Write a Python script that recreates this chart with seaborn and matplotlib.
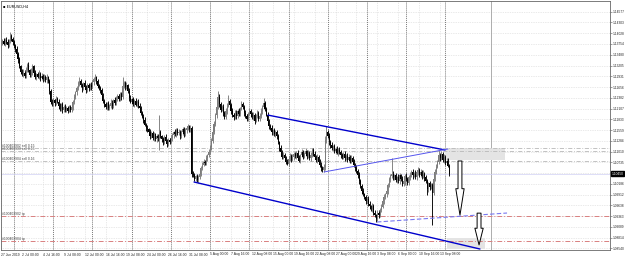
import numpy as np
import pandas as pd
import matplotlib
matplotlib.use("Agg")
import matplotlib.pyplot as plt
import seaborn as sns
from matplotlib.patches import Rectangle

# ---------------- data ----------------
symbol = "EURUSD,H4"
first_bar = -9          # bar index of first candle (bars counted from 1 Jul 00:00)
first_open = 11378      # prices in 1/10000 units

closes = [
    11382, 11376, 11386, 11380, 11372, 11384, 11395, 11388, 11380,
    11370, 11362, 11350, 11336, 11318, 11305, 11298, 11302, 11294, 11310,
    11322, 11308, 11296, 11305, 11318, 11302, 11290, 11298, 11292, 11300,
    11288, 11295, 11286, 11292, 11284, 11290, 11280, 11255, 11228, 11222,
    11232, 11225, 11236, 11228, 11218, 11210, 11222, 11206, 11214, 11208,
    11212, 11205, 11214, 11208, 11215, 11228, 11240, 11252, 11262, 11275,
    11282, 11270, 11262, 11275, 11266, 11258, 11270, 11262, 11272, 11266,
    11278, 11285, 11290, 11280, 11268, 11262, 11258, 11245, 11230, 11222,
    11215, 11224, 11212, 11218, 11226, 11218, 11232, 11225, 11238, 11242,
    11236, 11248, 11240, 11268, 11275, 11265, 11270, 11256, 11238, 11228,
    11235, 11222, 11230, 11220, 11228, 11218, 11212, 11200, 11190, 11182,
    11170, 11162, 11158, 11150, 11140, 11148, 11136, 11145, 11132, 11140,
    11135, 11150, 11140, 11132, 11125, 11138, 11128, 11120, 11130, 11126,
    11135, 11142, 11150, 11145, 11156, 11148, 11152, 11140, 11150, 11158,
    11146, 11155, 11160, 11165, 11158, 11162, 11045, 11040, 11032, 11038,
    11028, 11036, 11045, 11060, 11068, 11075, 11072, 11085, 11092, 11100,
    11112, 11128, 11150, 11172, 11195, 11215, 11240, 11222, 11208, 11215,
    11200, 11190, 11205, 11218, 11230, 11220, 11205, 11195, 11188, 11200,
    11192, 11205, 11198, 11210, 11222, 11215, 11200, 11192, 11185, 11198,
    11205, 11196, 11188, 11195, 11180, 11192, 11200, 11185, 11192, 11205,
    11215, 11225, 11210, 11195, 11180, 11165, 11160, 11150, 11155, 11145,
    11150, 11140, 11125, 11110, 11100, 11088, 11092, 11085, 11075, 11070,
    11082, 11090, 11080, 11088, 11095, 11090, 11098, 11085, 11078, 11092,
    11100, 11088, 11095, 11102, 11090, 11098, 11085, 11092, 11105, 11095,
    11088, 11080, 11088, 11075, 11068, 11060, 11055, 11062, 11130, 11150,
    11140, 11125, 11118, 11110, 11115, 11102, 11108, 11098, 11105, 11100,
    11092, 11088, 11095, 11084, 11090, 11080, 11088, 11078, 11085, 11075,
    11068, 11060, 11052, 11040, 11025, 11012, 11000, 10992, 10985, 10975,
    10980, 10968, 10962, 10955, 10962, 10945, 10938, 10930, 10945, 10938,
    10952, 10960, 10975, 10985, 10992, 11000, 11015, 11030, 11038, 11045,
    11035, 11040, 11028, 11035, 11025, 11040, 11032, 11018, 11025, 11038,
    11030, 11022, 11035, 11042, 11050, 11040, 11045, 11035, 11048, 11055,
    11042, 11050, 11038, 11045, 11035, 11025, 11005, 11020, 11010, 11015,
    10995, 11030, 11050, 11062, 11075, 11092, 11085, 11095, 11080, 11088,
    11072, 11078, 11065, 11045,
]
wick_up = [
    5, 8, 4, 6, 7, 5, 11, 6, 4,
    6, 5, 8, 4, 7, 5, 6, 9, 4, 6,
    5, 7, 4, 8, 6, 5, 7, 4, 6, 8,
    5, 6, 4, 7, 5, 8, 4, 6, 5, 7,
    6, 4, 8, 5, 6, 7, 4, 6, 5, 8,
    4, 6, 5, 7, 6, 5, 8, 4, 6, 7,
    9, 5, 6, 4, 8, 5, 7, 6, 4, 6,
    5, 7, 8, 4, 6, 5, 7, 4, 6, 5,
    6, 4, 7, 5, 8, 6, 4, 7, 5, 6,
    7, 5, 6, 23, 6, 5, 8, 4, 6, 7,
    5, 6, 4, 8, 5, 7, 6, 4, 5, 6,
    7, 5, 6, 4, 8, 5, 6, 7, 4, 6,
    5, 44, 6, 4, 7, 5, 8, 4, 6, 5,
    7, 6, 4, 8, 5, 6, 7, 4, 6, 5,
    6, 7, 5, 6, 4, 8, 5, 6, 7, 4,
    6, 5, 8, 4, 6, 7, 5, 6, 4, 8,
    5, 7, 6, 8, 5, 6, 15, 7, 5, 6,
    8, 5, 7, 6, 15, 4, 6, 7, 5, 8,
    6, 5, 7, 4, 8, 6, 5, 7, 6, 4,
    8, 5, 6, 7, 4, 6, 8, 5, 7, 6,
    5, 13, 6, 4, 7, 5, 6, 8, 4, 6,
    7, 5, 6, 4, 8, 5, 7, 6, 4, 6,
    5, 7, 6, 8, 4, 6, 5, 7, 6, 4,
    8, 5, 6, 7, 4, 6, 5, 8, 6, 5,
    7, 4, 6, 5, 8, 6, 4, 7, 10, 15,
    6, 8, 5, 7, 4, 6, 5, 8, 6, 7,
    5, 6, 4, 8, 5, 7, 6, 4, 6, 5,
    7, 5, 6, 4, 8, 5, 6, 7, 4, 6,
    5, 8, 6, 4, 7, 5, 6, 4, 8, 5,
    6, 7, 5, 8, 4, 6, 7, 5, 6, 40,
    6, 5, 7, 4, 8, 6, 5, 7, 4, 6,
    8, 5, 6, 7, 4, 6, 5, 8, 6, 7,
    5, 6, 4, 8, 5, 7, 6, 4, 6, 5,
    5, 7, 6, 8, 5, 13, 6, 7, 4, 6,
    5, 7, 6, 4,
]
wick_dn = [
    6, 4, 7, 5, 8, 4, 6, 5, 7,
    5, 7, 6, 8, 5, 6, 4, 7, 5, 6,
    7, 5, 6, 4, 8, 6, 5, 7, 4, 6,
    6, 4, 7, 5, 6, 8, 5, 7, 6, 4,
    5, 7, 6, 4, 8, 5, 6, 7, 4, 6,
    7, 5, 4, 6, 5, 8, 6, 4, 7, 5,
    6, 4, 8, 5, 6, 7, 4, 6, 5, 8,
    4, 6, 5, 7, 6, 4, 8, 5, 6, 7,
    5, 7, 6, 4, 6, 8, 5, 6, 4, 7,
    6, 5, 7, 4, 6, 8, 5, 6, 7, 4,
    6, 5, 8, 4, 6, 7, 5, 6, 4, 7,
    5, 8, 6, 4, 7, 5, 6, 8, 4, 6,
    7, 30, 5, 6, 8, 4, 6, 7, 5, 6,
    4, 6, 7, 5, 8, 6, 4, 7, 5, 6,
    8, 5, 6, 4, 7, 6, 9, 5, 7, 6,
    5, 8, 4, 6, 7, 5, 6, 4, 8, 5,
    6, 7, 5, 4, 6, 8, 5, 7, 6, 4,
    7, 5, 6, 8, 4, 6, 7, 5, 6, 4,
    8, 6, 5, 7, 4, 6, 8, 5, 7, 6,
    4, 7, 5, 6, 8, 4, 6, 7, 5, 6,
    7, 5, 6, 4, 8, 6, 5, 7, 6, 4,
    6, 8, 5, 7, 4, 6, 5, 8, 6, 3,
    7, 5, 6, 4, 8, 5, 7, 6, 4, 6,
    5, 7, 4, 6, 8, 5, 6, 7, 4, 6,
    6, 5, 7, 4, 6, 8, 6, 5, 7, 6,
    5, 6, 8, 4, 7, 5, 6, 4, 8, 6,
    7, 5, 6, 8, 4, 6, 5, 7, 6, 4,
    6, 8, 5, 7, 6, 4, 8, 5, 6, 7,
    4, 6, 7, 5, 8, 6, 5, 8, 6, 7,
    5, 6, 4, 7, 5, 8, 6, 4, 7, 5,
    6, 7, 5, 8, 4, 6, 7, 5, 6, 8,
    4, 6, 5, 7, 6, 8, 5, 4, 7, 6,
    5, 7, 6, 4, 8, 5, 15, 6, 7, 5,
    80, 6, 5, 7, 4, 6, 8, 5, 6, 7,
    5, 6, 4, 7,
]

date_ticks = [-10, 6, 22, 38, 54, 70, 86, 102, 118, 134, 150, 166, 182, 198,
              214, 230, 246, 262, 278, 294, 310, 326]
date_labels = ["27 Jun 2019", "2 Jul 00:00", "4 Jul 16:00", "9 Jul 08:00",
               "12 Jul 00:00", "16 Jul 16:00", "19 Jul 08:00", "24 Jul 00:00",
               "26 Jul 16:00", "31 Jul 08:00", "5 Aug 00:00", "7 Aug 16:00",
               "12 Aug 08:00", "15 Aug 00:00", "19 Aug 16:00", "22 Aug 08:00",
               "27 Aug 00:00", "29 Aug 16:00", "3 Sep 08:00", "6 Sep 00:00",
               "10 Sep 16:00", "13 Sep 08:00"]
week_starts = [0, 30, 60, 90, 120, 150, 180, 210, 240, 270, 300, 330]
price_ticks = [1.14577, 1.14303, 1.14028, 1.13754, 1.13480, 1.13205, 1.12931,
               1.12656, 1.12382, 1.12107, 1.11833, 1.11559, 1.11284, 1.11010,
               1.10735, 1.10461, 1.10186, 1.09912, 1.09638, 1.09363, 1.09089,
               1.08814, 1.08540]

channel_upper_x = [194.3, 329.8]
channel_upper_y = [1.1194, 1.1105]
channel_lower_x = [137.7, 356.5]
channel_lower_y = [1.10234, 1.08525]
inner_line_x = [237.2, 332.0]
inner_line_y = [1.1049, 1.11076]
dash_line_x = [277.7, 377.2]
dash_line_y = [1.09214, 1.09443]
tp_levels = [1.0937, 1.0873]
tp_names = ["#100403902 tp", "#100403904 tp"]
order_levels = [1.1110, 1.1102, 1.1077]
order_names = ["#100403902 sell 0.15", "#100403903 sell 0.15", "#100403904 sell 0.16"]
zone_x = [(329.8, 375.7), (331.3, 360.4)]
zone_y = [(1.1079, 1.1110), (1.0853, 1.0881)]
arrow_x = [341.2, 355.8]
arrow_from = [1.1077, 1.0944]
arrow_to = [1.0939, 1.0863]
extra_vline = 365

# ---------------- build OHLC ----------------
c = np.array(closes) / 1e4
o = np.concatenate([[first_open / 1e4], c[:-1]])
h = np.maximum(o, c) + np.array(wick_up) / 1e4
l = np.minimum(o, c) - np.array(wick_dn) / 1e4
bars = np.arange(first_bar, first_bar + len(c))
df = pd.DataFrame({"bar": bars, "open": o, "high": h, "low": l, "close": c})

# ---------------- figure ----------------
sns.set_theme(style="white")
plt.rcParams["font.family"] = ["Liberation Sans", "DejaVu Sans"]
fig = plt.figure(figsize=(6.25, 2.56), dpi=100)
ax = fig.add_axes([1 / 625, 6 / 256, 609 / 625, 249 / 256])
ax.set_facecolor("white")
xmin, xmax = -9.95, 456.0
ymin, ymax = 1.0850, 1.1485
ax.set_xlim(xmin, xmax)
ax.set_ylim(ymin, ymax)

# grid
for t in price_ticks:
    ax.axhline(t, color="#d4d4d4", lw=0.5, ls=(0, (1, 1.5)), zorder=0)
for t in date_ticks:
    ax.axvline(t, color="#d4d4d4", lw=0.5, ls=(0, (1, 1.5)), zorder=0)
for t in week_starts:
    ax.axvline(t, color="#7a7a7a", lw=0.7, ls=(0, (1, 1)), zorder=1)
ax.axvline(extra_vline, color="#a0a0a0", lw=0.6, zorder=1)

# zones
for (x0, x1), (y0, y1) in zip(zone_x, zone_y):
    ax.add_patch(Rectangle((x0, y0), x1 - x0, y1 - y0, facecolor="#e4e4e4",
                           edgecolor="none", zorder=1))

# order / tp lines
for lv in order_levels:
    ax.axhline(lv, color="#b8b8b8", lw=0.6, ls=(0, (5, 2, 1, 2)), zorder=1)
for lv in tp_levels:
    ax.axhline(lv, color="#d98080", lw=0.7, ls=(0, (5, 2, 1, 2)), zorder=1)
for lv, nm in zip(order_levels, order_names):
    ax.text(-9.0, lv, nm, fontsize=2.4, color="#444444", va="bottom", ha="left", zorder=5)
for lv, nm in zip(tp_levels, tp_names):
    ax.text(-9.0, lv, nm, fontsize=2.4, color="#444444", va="bottom", ha="left", zorder=5)

# candles
up = df["close"] >= df["open"]
for mask, col in [(up, "#7c7c7c"), (~up, "#000000")]:
    d = df[mask]
    ax.vlines(d["bar"], d["low"], d["high"], color=col, lw=0.65, zorder=3)
    body_lo = np.minimum(d["open"], d["close"])
    body_h = np.maximum(np.abs(d["close"] - d["open"]), 0.00005)
    ax.bar(d["bar"], body_h, bottom=body_lo, width=0.8, color=col,
           edgecolor="none", zorder=3)

# trend lines
sns.lineplot(x=channel_upper_x, y=channel_upper_y, ax=ax, color="#0000cc", lw=1.0, zorder=4)
sns.lineplot(x=channel_lower_x, y=channel_lower_y, ax=ax, color="#0000cc", lw=1.0, zorder=4)
sns.lineplot(x=inner_line_x, y=inner_line_y, ax=ax, color="#5555ee", lw=0.7, zorder=4)
ax.plot(dash_line_x, dash_line_y, color="#7878f0", lw=0.8, ls=(0, (4, 2)), zorder=4)

# arrows
heads = [1.9, 1.2]
for xa, ya, yb, hl in zip(arrow_x, arrow_from, arrow_to, heads):
    ax.annotate("", xy=(xa, yb), xytext=(xa, ya),
                arrowprops=dict(arrowstyle=f"simple,head_length={hl},head_width=0.6,tail_width=0.28",
                                fc="white", ec="black", lw=0.7, shrinkA=0, shrinkB=0,
                                mutation_scale=10), zorder=6)

# bid line + price box
last = c[-1]
ax.axhline(last, color="#d0d0f4", lw=0.5, zorder=1)
ax.annotate(f"{last:.5f}", xy=(1.0, last), xycoords=("axes fraction", "data"),
            xytext=(1.0, 0), textcoords="offset points", fontsize=2.3, color="white",
            va="center", ha="left", annotation_clip=False, zorder=10,
            bbox=dict(boxstyle="square,pad=0.2", fc="black", ec="black"))

# axes styling
ax.yaxis.tick_right()
ax.set_yticks(price_ticks)
ax.set_yticklabels([f"{t:.5f}" for t in price_ticks])
ax.set_xticks(date_ticks)
ax.set_xticklabels(date_labels)
for lab in ax.get_xticklabels():
    lab.set_horizontalalignment("left")
ax.tick_params(axis="y", labelsize=2.3, length=1.2, width=0.4, color="#555555",
               labelcolor="#222222", pad=0.6)
ax.tick_params(axis="x", labelsize=2.4, length=1.2, width=0.4, color="#555555",
               labelcolor="#222222", pad=0.6)
for s in ax.spines.values():
    s.set_color("#666666")
    s.set_linewidth(0.6)
ax.set_xlabel("")
ax.set_ylabel("")

# title
ax.text(0.003, 0.985, "\u25aa " + symbol, transform=ax.transAxes, fontsize=2.6,
        color="black", va="top", ha="left", family=["DejaVu Sans"])

fig.savefig("out.png", dpi=100, facecolor="white")
